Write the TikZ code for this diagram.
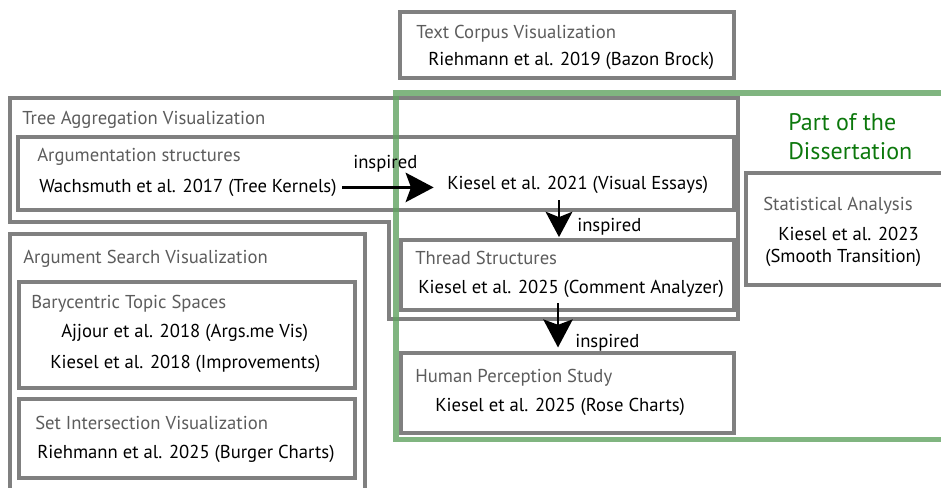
\documentclass[tikz,border=0pt]{standalone}
\usepackage{fontspec}
\setmainfont{PT Sans}
\usetikzlibrary{arrows.meta,fit}

\definecolor{boxgray}{RGB}{128,128,128}
\definecolor{labelgray}{RGB}{92,92,92}
\definecolor{framegreen}{RGB}{96,163,96}
\definecolor{titlegreen}{RGB}{12,120,12}

\begin{document}
\begin{tikzpicture}[x=0.75pt,y=-0.75pt,
  box/.style={draw=boxgray,line width=2.3pt,inner sep=0pt,rectangle},
  cat/.style={anchor=base west,inner sep=0pt,text=labelgray,font=\fontsize{14}{16}\selectfont},
  cite/.style={anchor=base west,inner sep=0pt,text=black,font=\fontsize{14}{16}\selectfont},
  linklabel/.style={anchor=base west,inner sep=0pt,text=black,font=\fontsize{14}{16}\selectfont},
  parttitle/.style={anchor=base west,inner sep=0pt,text=titlegreen,font=\fontsize{18}{21}\selectfont},
  link/.style={line width=2.2pt,-{Stealth[length=21pt,width=22pt,inset=4pt]}}
]
\useasboundingbox (0,0) rectangle (941,487);
\clip (0,0) rectangle (941,487);

% ---- category boxes ----
\node[box,fit={(400,12) (734,78)}] (corpus) {};
\draw[boxgray,line width=2.3pt,line join=miter]
  (10,98) -- (738,98) -- (738,319) -- (389,319) -- (389,222) -- (10,222) -- cycle;
\node[box,fit={(18,137) (734,210)}] (argstruct) {};
\node[box,fit={(401,240) (734,310)}] (thread) {};
\node[box,fit={(401,353) (734,433)}] (human) {};
\node[box,fit={(746,173) (960,285)}] (stats) {};
\node[box,fit={(10,234) (365,500)}] (search) {};
\node[box,fit={(19,282) (355,388)}] (bary) {};
\node[box,fit={(19,399) (355,478)}] (setint) {};

% ---- dissertation frame ----
\draw[framegreen,line width=4.4pt,opacity=0.8] (396,93) rectangle (970,439.5);
\node[parttitle] (part1) at (788,130) {Part of the};
\node[parttitle] (part2) at (788,159) {Dissertation};

% ---- texts ----
\node[cat]  (tcv)   at (416,38)  {Text Corpus Visualization};
\node[cite] (rb)    at (428,65)  {Riehmann et al. 2019 (Bazon Brock)};

\node[cat]  (tav)   at (22,124)  {Tree Aggregation Visualization};
\node[cat]  (ast)   at (37,161)  {Argumentation structures};
\node[cite] (wach)  at (39,192)  {Wachsmuth et al. 2017 (Tree Kernels)};
\node[cite] (kv)    at (447,189) {Kiesel et al. 2021 (Visual Essays)};

\node[cat]  (tst)   at (415,264) {Thread Structures};
\node[cite] (kca)   at (418,293) {Kiesel et al. 2025 (Comment Analyzer)};

\node[cat]  (hps)   at (415,382) {Human Perception Study};
\node[cite] (krc)   at (435,411) {Kiesel et al. 2025 (Rose Charts)};

\node[cat]  (sta)   at (763,210) {Statistical Analysis};
\node[cite] (k23)   at (778,240) {Kiesel et al. 2023};
\node[cite] (k23b)  at (765,262) {(Smooth Transition)};

\node[cat]  (asv)   at (23,263)  {Argument Search Visualization};
\node[cat]  (bts)   at (31,308)  {Barycentric Topic Spaces};
\node[cite] (ajj)   at (61,337)  {Ajjour et al. 2018 (Args.me Vis)};
\node[cite] (k18)   at (50,368)  {Kiesel et al. 2018 (Improvements)};
\node[cat]  (siv)   at (35,429)  {Set Intersection Visualization};
\node[cite] (rbc)   at (37,458)  {Riehmann et al. 2025 (Burger Charts)};

% ---- influence arrows ----
\draw[link,shorten <=4pt,shorten >=10pt] (wach.east) -- (wach.east -| kv.west);
\node[linklabel] (insp1) at (353,168) {inspired};

\coordinate (d1) at (559,200);
\draw[link,-{Stealth[length=19pt,width=20pt,inset=4pt]},shorten >=1pt] (d1) -- (d1 |- thread.north);
\node[linklabel] (insp2) at (577,231) {inspired};

\coordinate (d2) at (558,303);
\draw[link,shorten >=3pt] (d2) -- (d2 |- human.north);
\node[linklabel] (insp3) at (575,347) {inspired};
\end{tikzpicture}
\end{document}
